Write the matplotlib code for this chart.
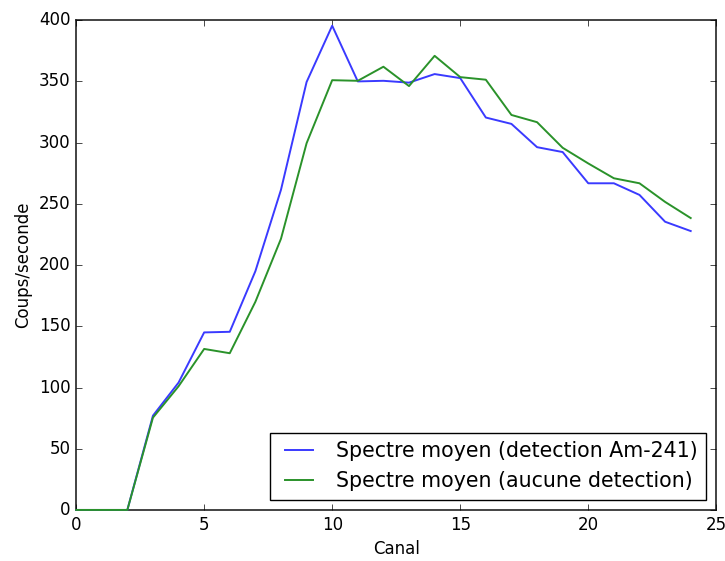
import matplotlib
matplotlib.use("Agg")
import matplotlib.pyplot as plt

plt.style.use("classic")

canal = list(range(25))
spectre_am241 = [0, 0, 0, 77, 104, 145, 145.5, 195, 261.5, 349.5, 395.5, 350, 350.5, 349, 356, 352.7,
                 320.5, 315.3, 296.3, 292.3, 266.8, 266.8, 257.3, 235.4, 227.8]
spectre_aucune = [0, 0, 0, 75.4, 101, 131.5, 128, 170, 221.5, 299.5, 351, 350.5, 362, 346.2, 370.9, 353.5,
                  351.4, 322.6, 316.7, 295.8, 283, 270.9, 266.8, 251.6, 238.4]

fig = plt.figure(figsize=(7.25, 5.61), dpi=100, facecolor="white")
ax = fig.add_axes([0.105, 0.091, 0.883, 0.873])
ax.plot(canal, spectre_am241, color="#3a3aff", lw=1.4, zorder=3, clip_on=False,
        label="Spectre moyen (detection Am-241)")
ax.plot(canal, spectre_aucune, color="#2a922a", lw=1.4, zorder=3, clip_on=False,
        label="Spectre moyen (aucune detection)")
ax.set_xlim(0, 25)
ax.set_ylim(0, 400)
for s in ax.spines.values():
    s.set_color("#222222")
    s.set_linewidth(1.2)
ax.set_xlabel("Canal")
ax.set_ylabel("Coups/seconde")
leg = ax.legend(loc="lower right", fontsize=14.8)
leg.set_zorder(5)
fig.savefig("out.png", dpi=100, facecolor="white")
